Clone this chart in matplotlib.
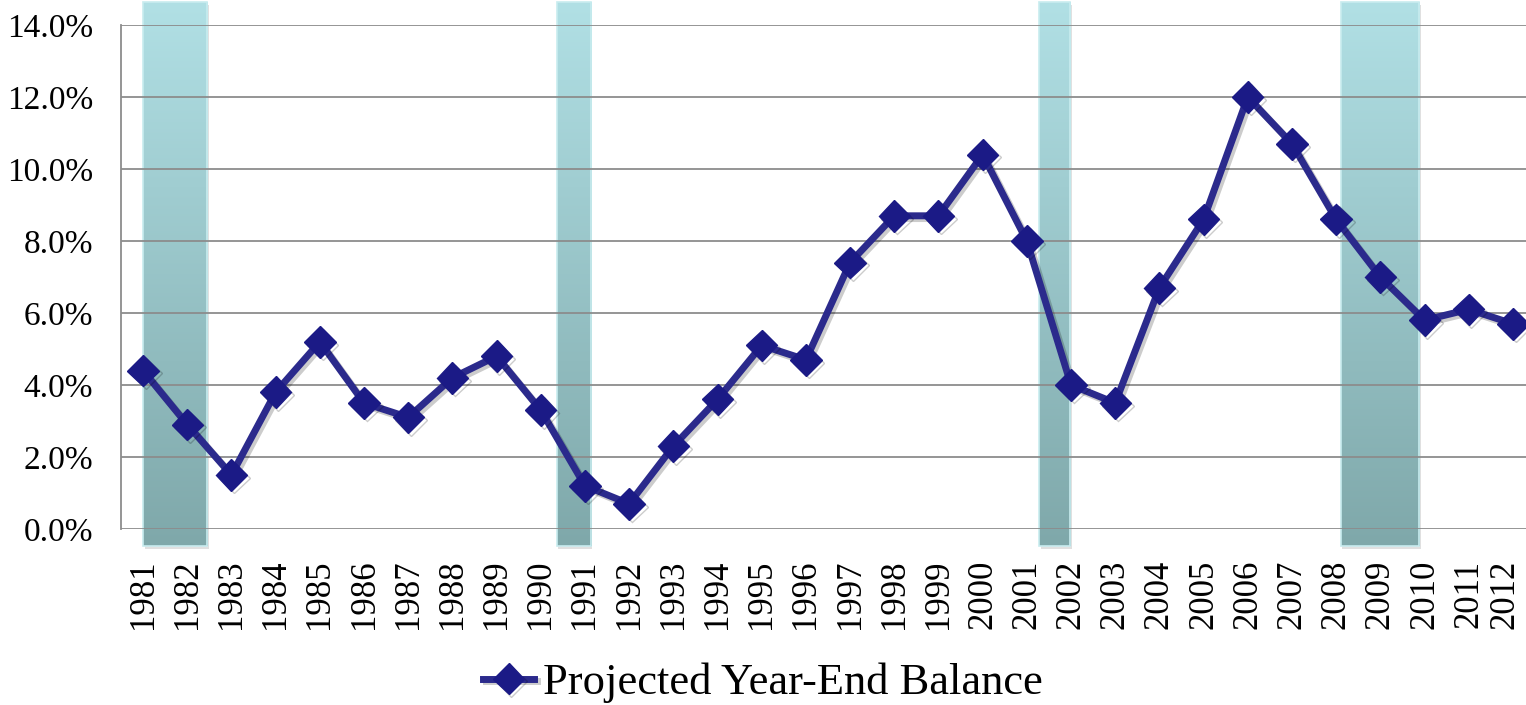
import matplotlib
matplotlib.use("Agg")
import matplotlib.pyplot as plt
import numpy as np
from matplotlib.colors import LinearSegmentedColormap
from matplotlib.transforms import ScaledTranslation
import matplotlib.patheffects as pe

years = [str(y) for y in range(1981, 2013)]
balance = [4.4, 2.9, 1.5, 3.8, 5.2, 3.5, 3.1, 4.2, 4.8, 3.3,
           1.2, 0.7, 2.3, 3.6, 5.1, 4.7, 7.4, 8.7, 8.7, 10.4,
           8.0, 4.0, 3.5, 6.7, 8.6, 12.0, 10.7, 8.6, 7.0, 5.8,
           6.1, 5.7]
# recession bands as (start, end) in category-index units
recessions = [(0.0, 1.45), (9.36, 10.13), (20.27, 20.98), (27.1, 28.87)]
yticks = [0, 2, 4, 6, 8, 10, 12, 14]
series_name = "Projected Year-End Balance"

plt.rcParams['font.family'] = ['Liberation Serif', 'DejaVu Serif']

fig = plt.figure(figsize=(15.26, 7.05), dpi=100)
ax = fig.add_axes([121/1526, 1 - 529/705, (1535 - 121)/1526, (529 - 25)/705])

x = np.arange(len(years))

cmap = LinearSegmentedColormap.from_list("band", ["#7fa8aa", "#b1e0e5"])
grad = np.linspace(0, 1, 256).reshape(-1, 1)
band_top = 14.64
band_bot = -0.47
for s, e in recessions:
    ax.add_patch(plt.Rectangle((s + 0.04, band_bot - 0.08), e - s, band_top - band_bot,
                               facecolor="#000000", alpha=0.12, edgecolor="none",
                               clip_on=False, zorder=1))
    ax.imshow(grad, extent=(s, e, band_bot, band_top), origin="lower", cmap=cmap,
              aspect="auto", clip_on=False, zorder=1.5, interpolation="bilinear")
    ax.add_patch(plt.Rectangle((s, band_bot), e - s, band_top - band_bot,
                               facecolor="none", edgecolor="#c8ecef", lw=1.2,
                               clip_on=False, zorder=1.6))
ax.set_xlim(-0.5, len(years) - 0.5)
ax.set_ylim(0, 14)

for yv in yticks:
    ax.axhline(yv, color="#8c8c8c", lw=1.3, zorder=2)

ax.plot(x, balance, color="#2b2a8c", lw=5, marker="D", markersize=16,
        markerfacecolor="#1b1a86", markeredgecolor="#1b1a86", zorder=5,
        solid_joinstyle="miter", label=series_name,
        path_effects=[pe.SimpleLineShadow(offset=(2, -2), alpha=0.2), pe.Normal()])

ax.set_yticks(yticks)
ax.set_yticklabels([f"{v:.1f}%" for v in yticks], fontsize=24)
ax.set_xticks(x)
ax.set_xticklabels(years, rotation=90, fontsize=25)
ax.tick_params(axis="both", length=0)
ax.tick_params(axis="x", pad=22)
ax.tick_params(axis="y", pad=20)

# keep the last (edge) label inside the figure
last = ax.get_xticklabels()[-1]
last.set_transform(last.get_transform() + ScaledTranslation(-8/100, 0, fig.dpi_scale_trans))

for sp in ["top", "right", "bottom"]:
    ax.spines[sp].set_visible(False)
ax.spines["left"].set_color("#8c8c8c")
ax.spines["left"].set_linewidth(1.3)

leg = fig.legend(loc="center", bbox_to_anchor=(0.5, 1 - 683/705), frameon=False,
                 fontsize=32, handlelength=1.15, handletextpad=0.2)

fig.savefig("out.png", dpi=100, facecolor="white")
